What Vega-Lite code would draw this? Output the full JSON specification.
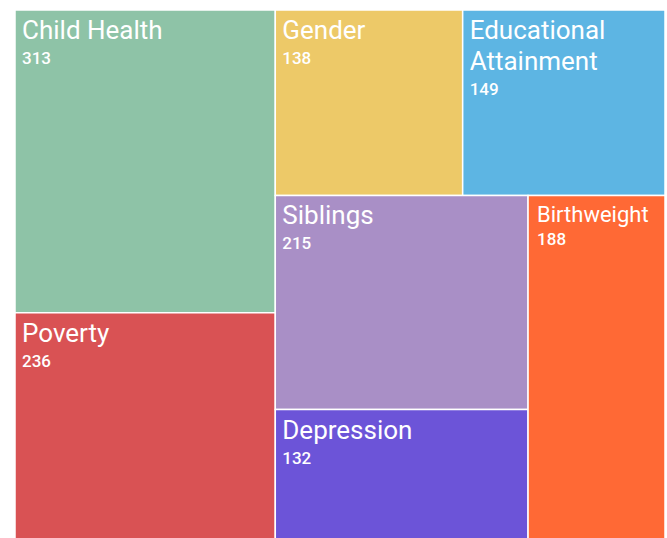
{
  "$schema": "https://vega.github.io/schema/vega-lite/v6.json",
  "width": 650,
  "height": 531,
  "padding": {"left": 14, "top": 9, "right": 3, "bottom": 0},
  "autosize": {"type": "pad"},
  "background": "white",
  "config": {"view": {"stroke": null}},
  "data": {
    "values": [
      {"name": "Child Health", "value": 313, "block": "A", "band": "Child Health", "col": "Child Health"},
      {"name": "Poverty", "value": 236, "block": "A", "band": "Poverty", "col": "Poverty"},
      {"name": "Gender", "value": 138, "block": "B", "band": "top", "col": "Gender"},
      {"name": "Educational\nAttainment", "value": 149, "block": "B", "band": "top", "col": "Educational Attainment"},
      {"name": "Siblings", "value": 215, "block": "B", "band": "bottom", "col": "S"},
      {"name": "Depression", "value": 132, "block": "B", "band": "bottom", "col": "S"},
      {"name": "Birthweight", "value": 188, "block": "B", "band": "bottom", "col": "W"}
    ]
  },
  "transform": [
    {"window": [{"op": "row_number", "as": "idx"}]},
    {"stack": "value", "groupby": [], "sort": [{"field": "idx"}], "offset": "normalize", "as": ["s0", "s1"]},
    {"joinaggregate": [{"op": "min", "field": "s0", "as": "bx0"}, {"op": "max", "field": "s1", "as": "bx1"}], "groupby": ["block"]},
    {"stack": "value", "groupby": ["block"], "sort": [{"field": "idx"}], "offset": "normalize", "as": ["t0", "t1"]},
    {"joinaggregate": [{"op": "min", "field": "t0", "as": "by0"}, {"op": "max", "field": "t1", "as": "by1"}], "groupby": ["block", "band"]},
    {"stack": "value", "groupby": ["block", "band"], "sort": [{"field": "idx"}], "offset": "normalize", "as": ["u0", "u1"]},
    {"joinaggregate": [{"op": "min", "field": "u0", "as": "c0"}, {"op": "max", "field": "u1", "as": "c1"}], "groupby": ["block", "band", "col"]},
    {"stack": "value", "groupby": ["block", "band", "col"], "sort": [{"field": "idx"}], "offset": "normalize", "as": ["v0", "v1"]},
    {"calculate": "datum.bx0 + (datum.bx1 - datum.bx0) * datum.c0", "as": "x0"},
    {"calculate": "datum.bx0 + (datum.bx1 - datum.bx0) * datum.c1", "as": "x1"},
    {"calculate": "datum.by0 + (datum.by1 - datum.by0) * datum.v0", "as": "y0"},
    {"calculate": "datum.by0 + (datum.by1 - datum.by0) * datum.v1", "as": "y1"}
  ],
  "encoding": {
    "x": {"field": "x0", "type": "quantitative", "scale": {"domain": [0, 1], "nice": false, "zero": false}, "axis": null},
    "y": {"field": "y0", "type": "quantitative", "scale": {"domain": [0, 1], "nice": false, "zero": false, "reverse": true}, "axis": null}
  },
  "layer": [
    {
      "mark": {"type": "rect", "stroke": "white", "strokeWidth": 1.5, "opacity": 1},
      "encoding": {
        "x2": {"field": "x1"},
        "y2": {"field": "y1"},
        "color": {
          "field": "name",
          "type": "nominal",
          "scale": {
            "domain": ["Child Health", "Poverty", "Gender", "Educational\nAttainment", "Siblings", "Depression", "Birthweight"],
            "range": ["#8EC3A7", "#D95254", "#EDC968", "#5DB5E3", "#A98FC6", "#6C54D8", "#FF6935"]
          },
          "legend": null
        }
      }
    },
    {
      "transform": [{"filter": "datum.name !== 'Birthweight'"}],
      "mark": {"type": "text", "font": "Roboto", "fontWeight": 400, "fontSize": 26, "color": "white", "align": "left", "baseline": "alphabetic", "dx": 7, "dy": 29, "lineBreak": "\n", "lineHeight": 31},
      "encoding": {"text": {"field": "name"}}
    },
    {
      "transform": [{"filter": "datum.name === 'Birthweight'"}],
      "mark": {"type": "text", "font": "Roboto", "fontWeight": 400, "fontSize": 22, "color": "white", "align": "left", "baseline": "alphabetic", "dx": 9, "dy": 27},
      "encoding": {"text": {"field": "name"}}
    },
    {
      "transform": [{"filter": "datum.col !== 'Educational Attainment' && datum.name !== 'Birthweight'"}],
      "mark": {"type": "text", "font": "Roboto", "fontWeight": 500, "fontSize": 17, "color": "white", "align": "left", "baseline": "alphabetic", "dx": 7, "dy": 54},
      "encoding": {"text": {"field": "value", "type": "quantitative"}}
    },
    {
      "transform": [{"filter": "datum.col === 'Educational Attainment'"}],
      "mark": {"type": "text", "font": "Roboto", "fontWeight": 500, "fontSize": 17, "color": "white", "align": "left", "baseline": "alphabetic", "dx": 7, "dy": 85},
      "encoding": {"text": {"field": "value", "type": "quantitative"}}
    },
    {
      "transform": [{"filter": "datum.name === 'Birthweight'"}],
      "mark": {"type": "text", "font": "Roboto", "fontWeight": 500, "fontSize": 17, "color": "white", "align": "left", "baseline": "alphabetic", "dx": 9, "dy": 50},
      "encoding": {"text": {"field": "value", "type": "quantitative"}}
    }
  ]
}
